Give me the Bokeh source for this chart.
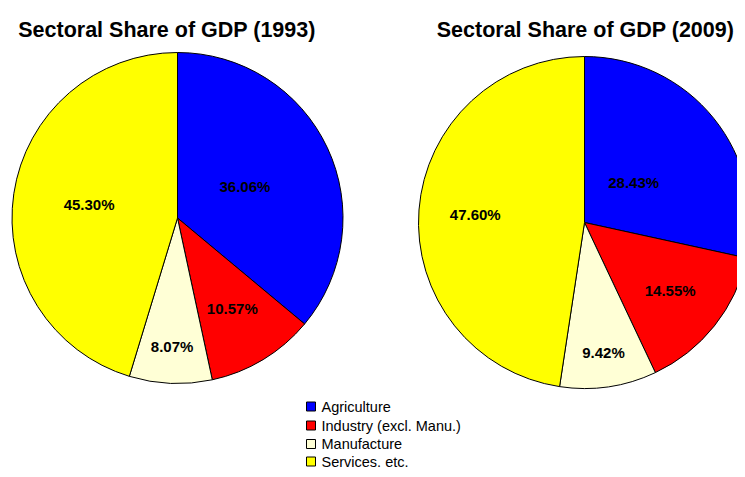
import math
from bokeh.plotting import figure
from bokeh.models import Range1d
from bokeh.core.properties import value
from bokeh.embed import file_html
from bokeh.resources import INLINE

# ---- data ----
sectors = ["Agriculture", "Industry (excl. Manu.)", "Manufacture", "Services. etc."]
share_1993 = [36.06, 10.57, 8.07, 45.30]
share_2009 = [28.43, 14.55, 9.42, 47.60]
titles = ["Sectoral Share of GDP (1993)", "Sectoral Share of GDP (2009)"]

# ---- style ----
colors = ["#0000FF", "#FF0000", "#FFFFD6", "#FFFF00"]
label_r_1993 = [0.45, 0.64, 0.78, 0.54]
label_r_2009 = [0.38, 0.66, 0.79, 0.66]

W, H = 737, 469
p = figure(width=W, height=H, output_backend="svg", toolbar_location=None,
           x_range=Range1d(0, W), y_range=Range1d(0, H),
           min_border=0, outline_line_color=None)
p.axis.visible = False
p.grid.visible = False
p.background_fill_color = "white"
p.border_fill_color = "white"

def sy(y):  # screen y -> data y
    return H - y

pies = [
    dict(cx=177, cy=217.5, r=165.5, vals=share_1993, lr=label_r_1993, title=titles[0], tx=166.5),
    dict(cx=584, cy=222, r=166, vals=share_2009, lr=label_r_2009, title=titles[1], tx=585),
]

for pie in pies:
    vals = pie["vals"]
    total = sum(vals)
    cum = 0.0
    starts, ends, lx, ly, labs = [], [], [], [], []
    for v, f in zip(vals, pie["lr"]):
        a0 = math.pi / 2 - 2 * math.pi * cum / total
        a1 = math.pi / 2 - 2 * math.pi * (cum + v) / total
        mid = (a0 + a1) / 2
        starts.append(a0)
        ends.append(a1)
        lx.append(pie["cx"] + f * pie["r"] * math.cos(mid))
        ly.append(sy(pie["cy"]) + f * pie["r"] * math.sin(mid))
        labs.append(f"{v:.2f}%")
        cum += v
    p.wedge(x=[pie["cx"]] * len(vals), y=[sy(pie["cy"])] * len(vals), radius=pie["r"],
            start_angle=starts, end_angle=ends, direction="clock",
            fill_color=colors, line_color="black", line_width=1)
    p.text(x=lx, y=ly, text=labs, text_align="center", text_baseline="middle",
           text_font=value("Liberation Sans"), text_font_style="bold",
           text_font_size="15px", text_color="black")
    p.text(x=[pie["tx"]], y=[sy(29)], text=[pie["title"]], text_align="center",
           text_baseline="middle", text_font=value("Liberation Sans"),
           text_font_style="bold", text_font_size="21.5px", text_color="black")

# legend
leg_y = [406, 425, 443.5, 461]
p.rect(x=[310.5] * 4, y=[sy(v) for v in leg_y], width=9, height=9,
       fill_color=colors, line_color="black", line_width=1)
p.text(x=[321] * 4, y=[sy(v) for v in leg_y], text=sectors, text_align="left",
       text_baseline="middle", text_font=value("Liberation Sans"),
       text_font_size="14.5px", text_color="black")

open("out.html", "w").write(file_html(p, INLINE))
